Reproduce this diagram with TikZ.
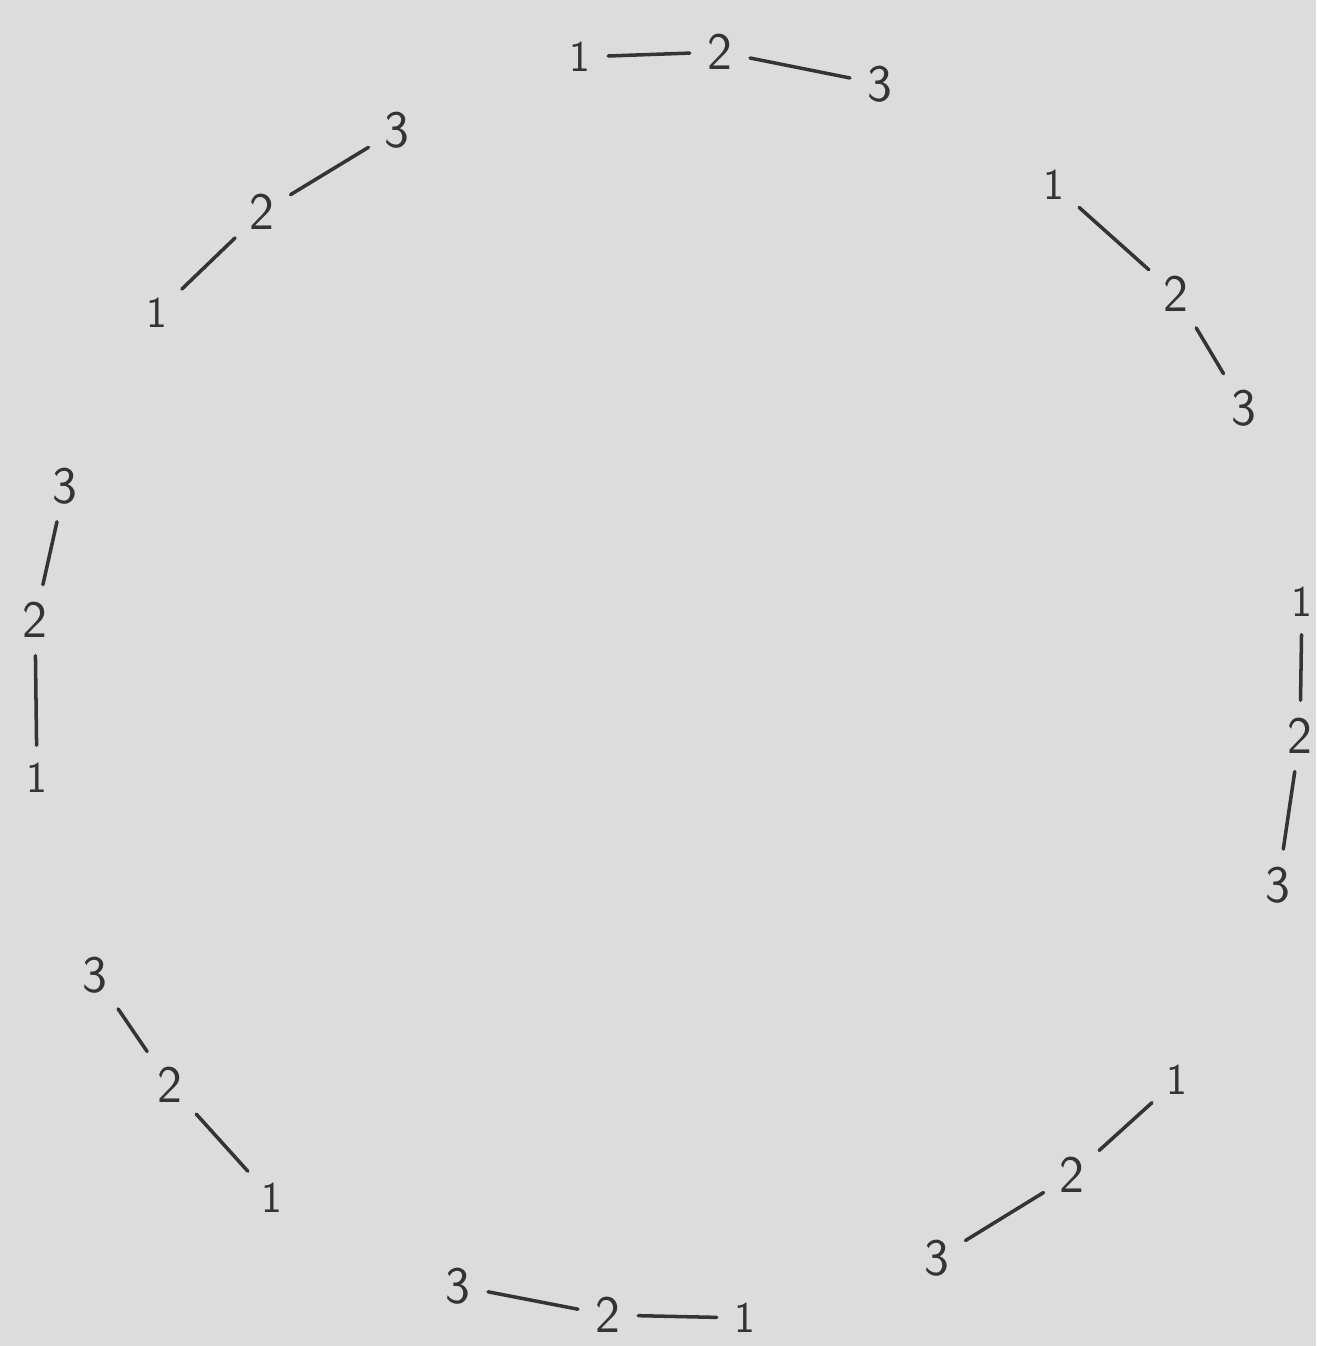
\documentclass[tikz,border=0pt]{standalone}
\usepackage[dvipsnames]{xcolor}
\definecolor{paper}{RGB}{220, 220, 220}
\definecolor{ink}{RGB}{52, 52, 52}
\usepackage{tikz}
\usetikzlibrary{calc}

\tikzset{
  digit/.style={inner sep=3pt, text=ink, font=\sffamily\fontsize{30}{30}\selectfont},
  smalldigit/.style={digit, font=\sffamily\fontsize{25}{25}\selectfont},
  link/.style={ink, line width=2pt, line cap=round, shorten <=7pt, shorten >=7pt}
}

\begin{document}
\begin{tikzpicture}[x=0.02cm, y=-0.02cm]
    % Paper
    \fill[paper] (0,0) rectangle (1316,1346);
    \useasboundingbox (0,0) rectangle (1316,1346);

    % Top
    \node[smalldigit] (a1) at (580,57) {1};
    \node[digit] (a2) at (720,52) {2};
    \node[digit] (a3) at (880,84) {3};

    % Upper right
    \node[smalldigit] (b1) at (1054,185) {1};
    \node[digit] (b2) at (1176,294) {2};
    \node[digit] (b3) at (1244,408) {3};

    % Right
    \node[smalldigit] (c1) at (1302,602) {1};
    \node[digit] (c2) at (1300,736) {2};
    \node[digit] (c3) at (1278,885) {3};

    % Lower right
    \node[smalldigit] (d1) at (1177,1080) {1};
    \node[digit] (d2) at (1072,1175) {2};
    \node[digit] (d3) at (937,1258) {3};

    % Bottom
    \node[smalldigit] (e1) at (745,1318) {1};
    \node[digit] (e2) at (608,1315) {2};
    \node[digit] (e3) at (458,1286) {3};

    % Lower left
    \node[smalldigit] (f1) at (272,1198) {1};
    \node[digit] (f2) at (170,1085) {2};
    \node[digit] (f3) at (95,975) {3};

    % Left
    \node[smalldigit] (g1) at (37,778) {1};
    \node[digit] (g2) at (35,620) {2};
    \node[digit] (g3) at (65,486) {3};

    % Upper left
    \node[smalldigit] (h1) at (157,313) {1};
    \node[digit] (h2) at (262,212) {2};
    \node[digit] (h3) at (397,130) {3};

    % Links
    \foreach \g in {a,b,c,d,e,f,g,h} {
        \draw[link] (\g1) -- (\g2);
        \draw[link] (\g2) -- (\g3);
    }
\end{tikzpicture}
\end{document}
